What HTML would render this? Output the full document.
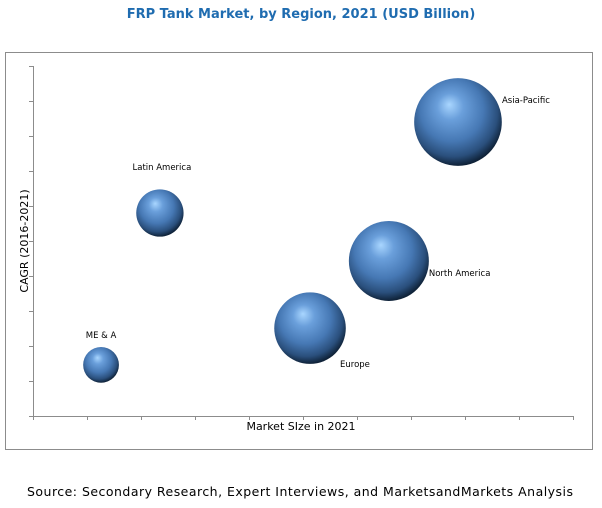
<!DOCTYPE html>
<html><head><meta charset="utf-8"><style>
html,body{margin:0;padding:0;background:#fff;}
svg{display:block;}
</style></head><body>
<svg width="602" height="508" viewBox="0 0 602 508" xmlns="http://www.w3.org/2000/svg">
<defs>
<radialGradient id="ball" cx="0.45" cy="0.4" r="0.6" fx="0.4" fy="0.3">
<stop offset="0" stop-color="#a9d6ff"/>
<stop offset="0.25" stop-color="#6a9fdb"/>
<stop offset="0.6" stop-color="#4678b4"/>
<stop offset="0.85" stop-color="#2a4f7c"/>
<stop offset="1" stop-color="#0f2238"/>
</radialGradient>
</defs>
<text x="301" y="18" text-anchor="middle" font-family="DejaVu Sans, sans-serif" font-weight="bold" font-size="13" fill="#1f6cb0">FRP Tank Market, by Region, 2021 (USD Billion)</text>
<rect x="5.5" y="52.5" width="587" height="397" fill="#fff" stroke="#8c8c8c"/>
<g id="axes"></g>
<g id="bubbles"></g>
<text x="301" y="430" text-anchor="middle" font-family="DejaVu Sans, sans-serif" font-size="11" fill="#000">Market SIze in 2021</text>
<text transform="translate(28,241) rotate(-90)" text-anchor="middle" font-family="DejaVu Sans, sans-serif" font-size="11" fill="#000">CAGR (2016-2021)</text>
<text x="27" y="496" textLength="546" lengthAdjust="spacing" font-family="DejaVu Sans, sans-serif" font-size="12.5" fill="#000">Source: Secondary Research, Expert Interviews, and MarketsandMarkets Analysis</text>
</svg>
<script>
const regions = ["ME & A", "Latin America", "Europe", "North America", "Asia-Pacific"];
const marketSize = [1.26, 2.35, 5.13, 6.59, 7.87];
const cagr = [1.46, 5.8, 2.51, 4.43, 8.4];
const bubbleSize = [0.8, 1.4, 3.2, 4.0, 4.8];
const xTicks = [0,1,2,3,4,5,6,7,8,9,10];
const yTicks = [0,1,2,3,4,5,6,7,8,9,10];

const NS = "http://www.w3.org/2000/svg";
const X0 = 33, X1 = 573, Y0 = 416, Y1 = 66;
function xs(v){ return X0 + (v/10)*(X1-X0); }
function ys(v){ return Y0 - (v/10)*(Y0-Y1); }
function rs(v){ return 20*Math.sqrt(v); }
function mk(tag, attrs, parent){ const e=document.createElementNS(NS,tag); for(const k in attrs) e.setAttribute(k,attrs[k]); parent.appendChild(e); return e; }

const axes = document.getElementById('axes');
let yl = mk('line',{x1:X0+0.5,y1:Y1,x2:X0+0.5,y2:Y0,stroke:'#8c8c8c'},axes);


let xl = mk('line',{x1:X0,y1:Y0+0.5,x2:X1,y2:Y0+0.5,stroke:'#8c8c8c'},axes);


yTicks.forEach(t=>{
  const l = mk('line',{x1:X0-4,x2:X0,y1:Math.round(ys(t))+0.5,y2:Math.round(ys(t))+0.5,stroke:'#8c8c8c'},axes);
  
  
});
xTicks.forEach(t=>{
  const l = mk('line',{x1:Math.round(xs(t))+0.5,x2:Math.round(xs(t))+0.5,y1:Y0,y2:Y0+4,stroke:'#8c8c8c'},axes);
  
  
});

const labelPos = [
  {dx:0, dy:-27, anchor:'middle'},
  {dx:2, dy:-43, anchor:'middle'},
  {dx:30, dy:39, anchor:'start'},
  {dx:40, dy:15, anchor:'start'},
  {dx:44, dy:-19, anchor:'start'}
];
const bub = document.getElementById('bubbles');
regions.forEach((name,i)=>{
  const cx = xs(marketSize[i]), cy = ys(cagr[i]), r = rs(bubbleSize[i]);
  const c = mk('circle',{cx:cx,cy:cy,r:r,fill:'url(#ball)'},bub);
  
  
  const p = labelPos[i];
  const t = mk('text',{x:cx+p.dx,y:cy+p.dy,'text-anchor':p.anchor,'font-family':'DejaVu Sans, sans-serif','font-size':'8.5',fill:'#000'},bub);
  t.textContent = name;
  
  
});
</script>
</body></html>
